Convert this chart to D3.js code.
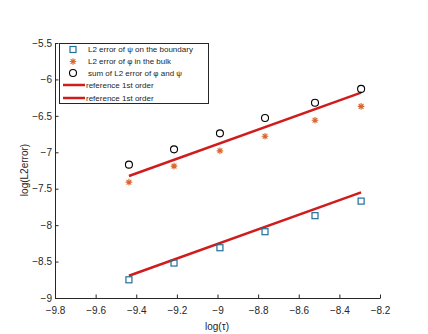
<!DOCTYPE html>
<html><head><meta charset="utf-8">
<script src="https://cdn.jsdelivr.net/npm/d3@7"></script>
<style>body{margin:0;background:#fff}svg{display:block}text{font-family:"Liberation Sans",Arial,sans-serif;fill:#262626}</style>
</head><body><svg id="c" width="428" height="334"></svg>
<script>
const logTau = [-9.436, -9.214, -8.988, -8.766, -8.52, -8.293];
const errPsi = [-8.75, -8.52, -8.31, -8.09, -7.87, -7.67];
const errPhi = [-7.41, -7.19, -6.98, -6.78, -6.56, -6.37];
const errSum = [-7.17, -6.96, -6.74, -6.53, -6.32, -6.13];
const ref1 = [-8.694, -7.551];
const ref2 = [-7.325, -6.182];
const refX = [-9.436, -8.293];
const xTicks = [-9.8, -9.6, -9.4, -9.2, -9, -8.8, -8.6, -8.4, -8.2];
const yTicks = [-5.5, -6, -6.5, -7, -7.5, -8, -8.5, -9];
const legendLabels = ["L2 error of \u03C8 on the boundary", "L2 error of \u03C6 in the bulk", "sum of L2 error of \u03C6 and \u03C8", "reference 1st order", "reference 1st order"];

const svg = d3.select("#c");
const x = d3.scaleLinear().domain([-9.8, -8.2]).range([55, 380]);
const y = d3.scaleLinear().domain([-9, -5.5]).range([298, 43]);
const blue = "#1f6f9a", orange = "#d9662c", red = "#d01c1c";

const xAxis = svg.append("g").attr("transform", "translate(0,298)")
  .call(d3.axisBottom(x).tickValues(xTicks).tickSizeInner(-3.5).tickSizeOuter(0).tickPadding(9).tickFormat(d => d3.format("")(d)));
const yAxis = svg.append("g").attr("transform", "translate(55,0)")
  .call(d3.axisLeft(y).tickValues(yTicks).tickSizeInner(-3.5).tickSizeOuter(0).tickPadding(3).tickFormat(d => d3.format("")(d)));
[xAxis, yAxis].forEach(a => {
  a.selectAll("path,line").attr("stroke", "#262626").attr("stroke-width", 1);
  a.selectAll("text").attr("font-size", 10).attr("fill", "#262626").style("font-family", '"Liberation Sans",Arial,sans-serif');
});
xAxis.selectAll("text").attr("dy", "0.72em");

svg.append("text").attr("x", 217).attr("y", 330).attr("text-anchor", "middle").attr("font-size", 10).text("log(\u03C4)");
svg.append("text").attr("transform", "translate(28,170) rotate(-90)").attr("text-anchor", "middle").attr("font-size", 10).text("log(L2error)");

// reference lines
const line = d3.line().x(d => x(d[0])).y(d => y(d[1]));
[ref1, ref2].forEach(r => {
  svg.append("path").attr("d", line(refX.map((v, i) => [v, r[i]]))).attr("stroke", red).attr("stroke-width", 2.5).attr("fill", "none");
});

function square(g, cx, cy) {
  g.append("rect").attr("x", cx - 3).attr("y", cy - 3).attr("width", 6).attr("height", 6).attr("fill", "none").attr("stroke", blue).attr("stroke-width", 1.2);
}
function star(g, cx, cy) {
  const r = 3.3, d = r * 0.72;
  const p = `M${cx - r},${cy}L${cx + r},${cy}M${cx},${cy - r}L${cx},${cy + r}M${cx - d},${cy - d}L${cx + d},${cy + d}M${cx - d},${cy + d}L${cx + d},${cy - d}`;
  g.append("path").attr("d", p).attr("stroke", orange).attr("stroke-width", 1.1).attr("fill", "none");
}
function circle(g, cx, cy) {
  g.append("circle").attr("cx", cx).attr("cy", cy).attr("r", 3.5).attr("fill", "none").attr("stroke", "#000").attr("stroke-width", 1.1);
}
const marks = svg.append("g");
logTau.forEach((t, i) => {
  square(marks, x(t), y(errPsi[i]));
  star(marks, x(t), y(errPhi[i]));
  circle(marks, x(t), y(errSum[i]));
});

// legend
const lg = svg.append("g");
lg.append("rect").attr("x", 59.5).attr("y", 43.5).attr("width", 149).attr("height", 60).attr("fill", "#fff").attr("stroke", "#262626").attr("stroke-width", 1);
const rowY = [49.5, 61.5, 73, 85, 98];
square(lg, 73, rowY[0]);
star(lg, 73, rowY[1]);
circle(lg, 73, rowY[2]);
[3, 4].forEach(i => lg.append("line").attr("x1", 63).attr("x2", 85).attr("y1", rowY[i]).attr("y2", rowY[i]).attr("stroke", red).attr("stroke-width", 2.5));
legendLabels.forEach((l, i) => {
  lg.append("text").attr("x", i < 3 ? 88 : 86).attr("y", rowY[i]).attr("dy", "0.35em").attr("font-size", 8).attr("fill", "#000").text(l);
});
</script></body></html>
